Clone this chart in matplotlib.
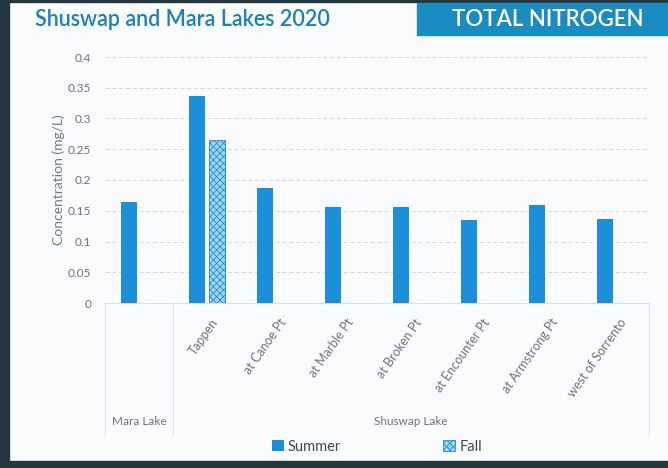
import matplotlib.pyplot as plt
import matplotlib.patches as mpatches
import numpy as np

plt.rcParams['font.family'] = ['Lato', 'DejaVu Sans']
plt.rcParams['hatch.linewidth'] = 0.6

# data
sites = ["", "Tappen", "at Canoe Pt", "at Marble Pt", "at Broken Pt",
         "at Encounter Pt", "at Armstrong Pt", "west of Sorrento"]
summer = [0.165, 0.337, 0.187, 0.156, 0.156, 0.135, 0.159, 0.136]
fall = [np.nan, 0.265, np.nan, np.nan, np.nan, np.nan, np.nan, np.nan]
lakes = ["Mara Lake", "Shuswap Lake"]
lake_span = [(0, 0), (1, 7)]
yticks = [0, 0.05, 0.1, 0.15, 0.2, 0.25, 0.3, 0.35, 0.4]

blue = '#1b8fd9'
grey = '#6f7478'

W, H = 668, 468
fig = plt.figure(figsize=(W / 100, H / 100), dpi=100)
fig.patch.set_facecolor('#f9fbfc')

# dark frame of the photographed slide
fig.add_artist(mpatches.Rectangle((0, 0), 9 / W, 1, transform=fig.transFigure,
                                  color='#24363e', zorder=0))
fig.add_artist(mpatches.Rectangle((0, 0), 1, 7 / H, transform=fig.transFigure,
                                  color='#24363e', zorder=0))
fig.add_artist(mpatches.Rectangle((0, 1 - 2 / H), 1, 2 / H, transform=fig.transFigure,
                                  color='#24363e', zorder=0))

# header
fig.text(35 / W, 1 - 19 / H, "Shuswap and Mara Lakes 2020", color='#1c7fbf',
         fontsize=15.5, fontweight='semibold', va='center', ha='left')
fig.add_artist(mpatches.Rectangle((417 / W, 1 - 35 / H), 251 / W, 32 / H,
                                  transform=fig.transFigure, color='#1a8cc2'))
fig.text(548 / W, 1 - 19 / H, "TOTAL NITROGEN", color='white', fontsize=16,
         fontweight='semibold', va='center', ha='center')

ax = fig.add_axes([105 / W, 1 - 303 / H, 544 / W, 246 / H])
ax.set_facecolor('none')
x = np.arange(len(sites))
bw = 0.235
ax.bar(x - 0.14, summer, bw, color=blue, label='Summer', zorder=3)
ax.bar(x + 0.14, fall, bw, facecolor='#a6d5f1', edgecolor=blue, hatch='xxxxx',
       linewidth=0.6, label='Fall', zorder=3)

ax.set_xlim(-0.5, len(sites) - 0.5)
ax.set_ylim(0, 0.4)
ax.set_yticks(yticks)
ax.set_yticklabels([f"{v:g}" for v in yticks], color=grey, fontsize=8.5)
ax.tick_params(axis='y', length=0, pad=10)
ax.set_xticks([])
ax.yaxis.grid(True, color='#d3d8dc', linestyle=(0, (4, 3)), linewidth=0.7)
for s in ['top', 'right', 'left']:
    ax.spines[s].set_visible(False)
ax.spines['bottom'].set_color('#d5e3ec')
ax.set_ylabel("Concentration (mg/L)", color='#6a7f8c', fontsize=10, labelpad=2)

# rotated site labels
for xi, name in zip(x, sites):
    ax.text(xi + 0.05, -0.022, name, rotation=55, ha='right', va='top',
            rotation_mode='anchor', color=grey, fontsize=9)

# lake group labels and separators
for name, (a, b) in zip(lakes, lake_span):
    ax.text((a + b) / 2, -0.192, name, ha='center', va='center',
            color=grey, fontsize=8.5)
for xs in [-0.5, 0.5, len(sites) - 0.5]:
    ax.plot([xs, xs], [0, -0.215], color='#dde3e7', linewidth=0.8,
            clip_on=False)

leg = ax.legend(loc='center', bbox_to_anchor=(0.5, -0.585), ncol=2,
                frameon=False, fontsize=10.5, handlelength=0.8,
                handleheight=0.8, columnspacing=7, handletextpad=0.3)
for t in leg.get_texts():
    t.set_color('#3f4a52')

fig.savefig('out.png', dpi=100, facecolor=fig.get_facecolor())
